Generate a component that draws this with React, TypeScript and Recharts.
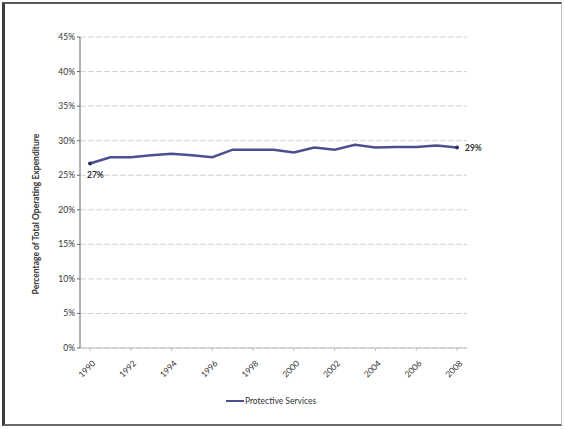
import { LineChart, Line, XAxis, YAxis, CartesianGrid, LabelList } from "recharts";

const years = [
  "1990", "1991", "1992", "1993", "1994", "1995", "1996", "1997", "1998", "1999",
  "2000", "2001", "2002", "2003", "2004", "2005", "2006", "2007", "2008",
];
const protectiveServices = [
  26.7, 27.6, 27.6, 27.9, 28.1, 27.9, 27.6, 28.7, 28.7, 28.7,
  28.3, 29.0, 28.7, 29.4, 29.0, 29.1, 29.1, 29.3, 29.0,
];
const yTicks = [0, 5, 10, 15, 20, 25, 30, 35, 40, 45];
const seriesName = "Protective Services";
const yTitle = "Percentage of Total Operating Expenditure";

const data = years.map((year, i) => ({ year, value: protectiveServices[i] }));

const FONT = "Lato, 'Open Sans', sans-serif";
const LINE_COLOR = "#4b4f92";
const TEXT = "#333";

function XTick({ x, y, payload }: any) {
  return (
    <text
      x={x + 6}
      y={y + 11}
      textAnchor="end"
      fontSize={8.5}
      fontFamily={FONT}
      fill={TEXT}
      transform={`rotate(-45 ${x + 6} ${y + 11})`}
    >
      {payload.value}
    </text>
  );
}

// only the first and last points carry a rounded value label
function EndLabel({ x, y, value, index }: any) {
  if (index === 0) {
    return (
      <text x={x - 3} y={y + 15} fontSize={8.5} fontWeight="bold" fontFamily={FONT} fill={TEXT}>
        {`${Math.round(value)}%`}
      </text>
    );
  }
  if (index === data.length - 1) {
    return (
      <text x={x + 8} y={y + 3} fontSize={8.5} fontWeight="bold" fontFamily={FONT} fill={TEXT}>
        {`${Math.round(value)}%`}
      </text>
    );
  }
  return null;
}

function EndDot({ cx, cy, index }: any) {
  if (index !== 0 && index !== data.length - 1) return null;
  return <circle cx={cx} cy={cy} r={2} fill="#2b2d5a" />;
}

export default function App() {
  return (
    <div
      style={{
        position: "absolute",
        left: 0,
        top: 0,
        width: 565,
        height: 429,
        background: "#fff",
        overflow: "hidden",
      }}
    >
      <div
        style={{
          position: "absolute",
          left: 2,
          top: 2,
          width: 560,
          height: 424,
          boxSizing: "border-box",
          borderTop: "2px solid #5a5a5a",
          borderLeft: "3px solid #3c3c3c",
          borderBottom: "2px solid #6a6a6a",
          borderRight: "1px solid #c4c4c4",
        }}
      />
      <svg style={{ position: "absolute", left: 0, top: 0 }} width={80} height={429}>
        <text
          x={0}
          y={0}
          transform="rotate(-90) translate(-214 39)"
          textAnchor="middle"
          fontSize={8.5}
          fontWeight="bold"
          fontFamily={FONT}
          fill={TEXT}
        >
          {yTitle}
        </text>
      </svg>
      <div style={{ position: "absolute", left: 0, top: 0 }}>
        <LineChart width={565} height={429} data={data} margin={{ top: 37, right: 98, bottom: 51, left: 40 }}>
          <CartesianGrid vertical={false} stroke="#d4d4d4" strokeDasharray="6 2" />
          <XAxis
            dataKey="year"
            interval={1}
            padding={{ left: 10, right: 10 }}
            tick={<XTick />}
            tickSize={3}
            axisLine={{ stroke: "#bdbdbd" }}
            tickLine={{ stroke: "#bdbdbd" }}
            height={30}
          />
          <YAxis
            domain={[0, 45]}
            ticks={yTicks}
            tickFormatter={(v) => `${v}%`}
            width={40}
            tick={{ fontSize: 8.5, fontFamily: FONT, fill: TEXT }}
            tickSize={3}
            axisLine={{ stroke: "#666" }}
            tickLine={{ stroke: "#666" }}
          />
          <Line
            dataKey="value"
            name={seriesName}
            stroke={LINE_COLOR}
            strokeWidth={2.5}
            dot={<EndDot />}
            activeDot={false}
            isAnimationActive={false}
          >
            <LabelList dataKey="value" content={<EndLabel />} />
          </Line>
        </LineChart>
      </div>
      <div
        style={{
          position: "absolute",
          left: -12,
          top: 396,
          width: 565,
          display: "flex",
          justifyContent: "center",
          alignItems: "center",
          fontFamily: FONT,
          fontSize: 8.5,
          color: TEXT,
          lineHeight: "10px",
        }}
      >
        <svg width={20} height={6}>
          <line x1={1} y1={3} x2={19} y2={3} stroke={LINE_COLOR} strokeWidth={2} />
        </svg>
        <span>{seriesName}</span>
      </div>
    </div>
  );
}
